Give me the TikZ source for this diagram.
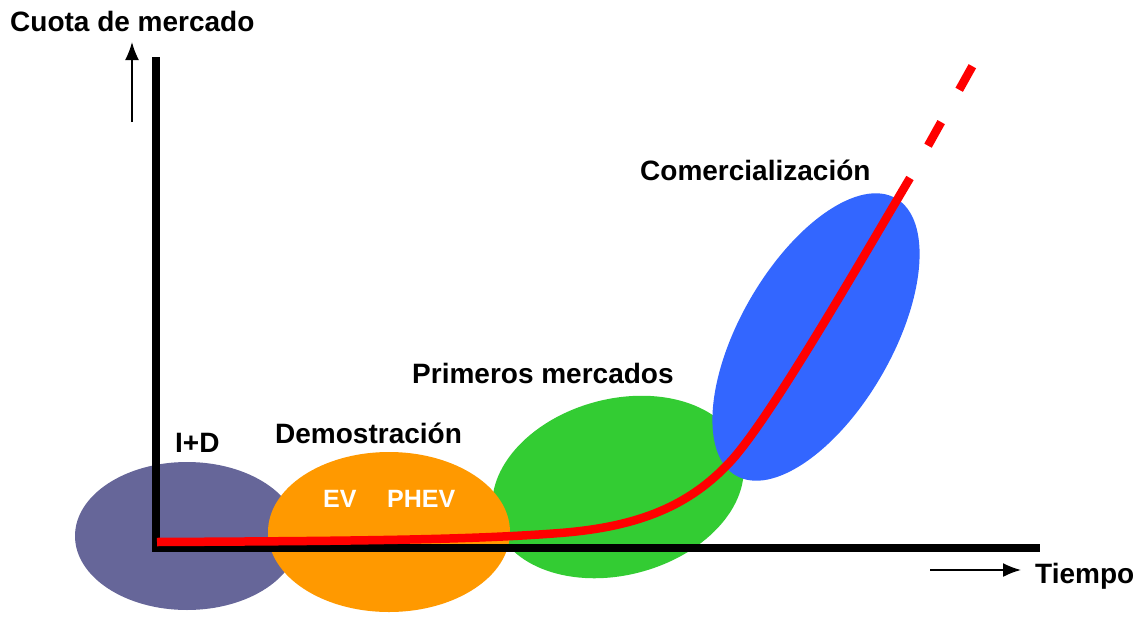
\documentclass[tikz,border=0pt]{standalone}
\usepackage{fontspec}
\setmainfont{Liberation Sans}
\usetikzlibrary{arrows.meta, positioning, shapes.geometric}

\definecolor{rdcol}{HTML}{666699}
\definecolor{democol}{HTML}{FF9900}
\definecolor{primcol}{HTML}{33CC33}
\definecolor{comcol}{HTML}{3366FF}

\begin{document}
\begin{tikzpicture}[
x=1pt, y=-1pt,
blob/.style={ellipse, inner sep=0pt, draw=none},
lbl/.style={anchor=base west, inner sep=0pt, font=\bfseries\fontsize{28}{30}\selectfont},
tag/.style={anchor=base west, inner sep=0pt, text=white, font=\bfseries\fontsize{25}{27}\selectfont},
axis/.style={line width=7.5pt, line join=miter},
hint/.style={line width=1.8pt, -{Latex[length=18pt, width=14pt]}},
curve/.style={red, line width=8.5pt}
]
\useasboundingbox (0,0) rectangle (1138,624);

% phases
\node[blob, fill=rdcol, minimum width=224pt, minimum height=148pt] (rd) at (187,536) {};
\node[blob, fill=primcol, minimum width=256pt, minimum height=176pt, rotate=15] (prim) at (618,487) {};
\node[blob, fill=democol, minimum width=242pt, minimum height=160pt] (demo) at (389,532) {};
\node[blob, fill=comcol, minimum width=320pt, minimum height=152pt, rotate=60] (com) at (816,337) {};

% axes
\coordinate (ytop) at (156,57);
\coordinate (orig) at (156,548);
\coordinate (xend) at (1040,548);
\draw[axis] (ytop) -- (orig) -- (xend);

\coordinate (upS) at (132,122);
\coordinate (upE) at (132,42);
\draw[hint] (upS) -- (upE);
\coordinate (rtS) at (930,570);
\coordinate (rtE) at (1021,570);
\draw[hint] (rtS) -- (rtE);

% market share curve
\coordinate (cstart) at (157,542);
\coordinate (cbend) at (560,533);
\coordinate (crise) at (730,462);
\coordinate (cend) at (910,178);
\coordinate (ctip) at (973,65);
\draw[curve] (cstart) .. controls (350,541) and (470,540) .. (cbend)
  .. controls (640,526.8) and (690,505) .. (crise)
  .. controls (770,419) and (860,262) .. (cend);
\draw[curve, dash pattern=on 27pt off 37pt, dash phase=27pt] (cend) -- (ctip);

% labels
\node[lbl] (ylab) at (10,31) {Cuota de mercado};
\node[lbl] (xlab) at (1035,583) {Tiempo};
\node[lbl] (rdlab) at (175,452) {I+D};
\node[lbl] (demolab) at (275,443) {Demostración};
\node[tag] (ev) at (323,507) {EV};
\node[tag] (phev) at (387,507) {PHEV};
\node[lbl] (primlab) at (412,383) {Primeros mercados};
\node[lbl] (comlab) at (640,180) {Comercialización};

\end{tikzpicture}
\end{document}
